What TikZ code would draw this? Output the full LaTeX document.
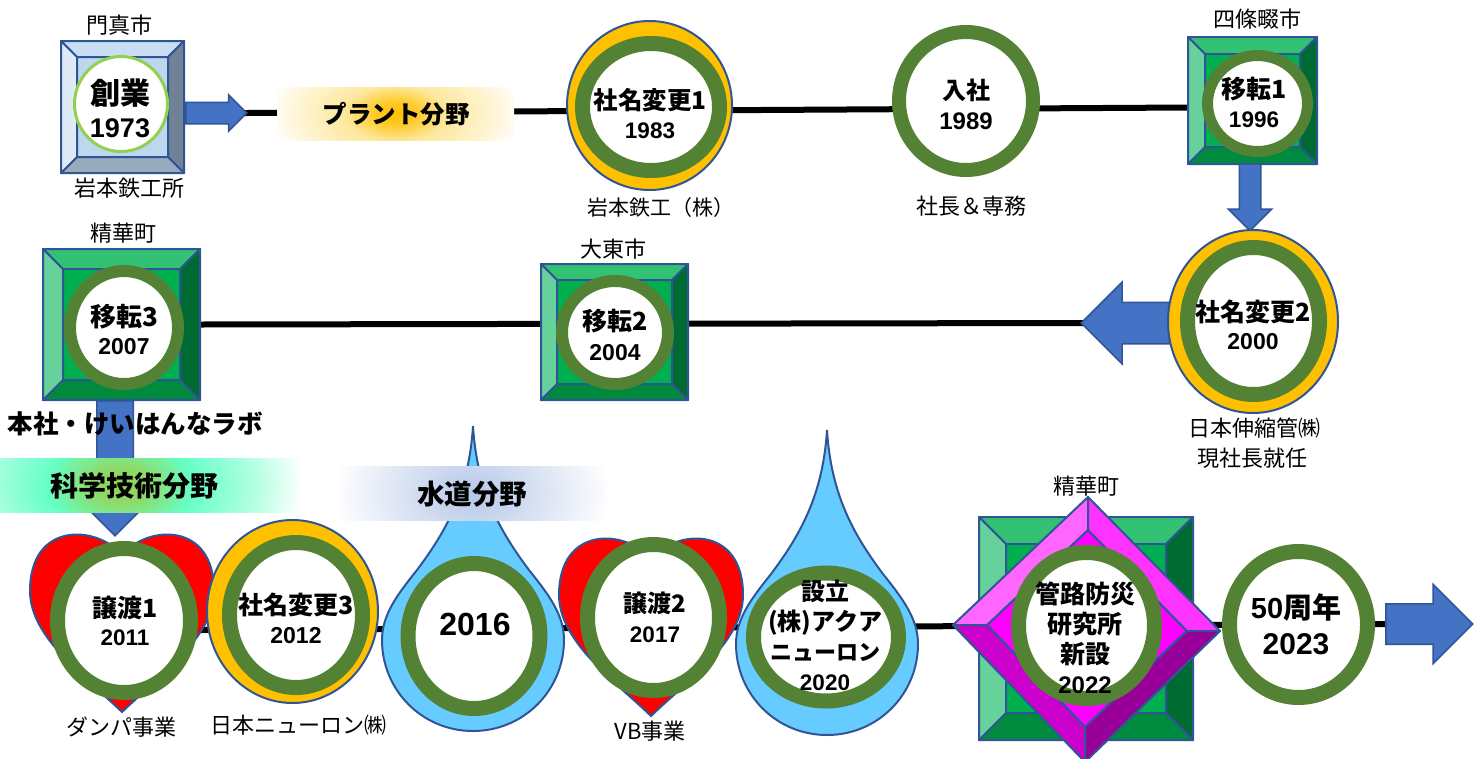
\documentclass[tikz,border=0pt]{standalone}
\usepackage{fontspec}
\setmainfont{Noto Sans CJK JP}
\newfontfamily\numfont{Liberation Sans}
\usetikzlibrary{calc,shapes.geometric,shapes.arrows,backgrounds}

\definecolor{edgeblue}{HTML}{2F5597}
\definecolor{arrowblue}{HTML}{4472C4}
\definecolor{ringgreen}{HTML}{548235}
\definecolor{paleyellow}{HTML}{FFC000}
\definecolor{dropblue}{HTML}{66CCFF}

\definecolor{gemtop}{HTML}{33C173}
\definecolor{gemleft}{HTML}{66D19A}
\definecolor{gemright}{HTML}{006A33}
\definecolor{gemlow}{HTML}{008A3E}
\definecolor{gemmid}{HTML}{00B050}
\definecolor{paletop}{HTML}{CADEF3}
\definecolor{paleleft}{HTML}{DEEAF6}
\definecolor{paleright}{HTML}{6F8296}
\definecolor{palelow}{HTML}{97ABBD}
\definecolor{palemid}{HTML}{BDD7EE}
\definecolor{kanmid}{HTML}{FF00FF}
\definecolor{kantl}{HTML}{FF66FF}
\definecolor{kantr}{HTML}{FF33FF}
\definecolor{kanbr}{HTML}{990099}
\definecolor{kanbl}{HTML}{CC00CC}
\definecolor{soganring}{HTML}{92D050}

\pgfdeclareradialshading{plantglow}{\pgfpoint{0bp}{0bp}}{%
  rgb(0bp)=(1,.75,0);
  rgb(4bp)=(1,.79,.15);
  rgb(10bp)=(.99,.91,.62);
  rgb(21bp)=(1,.97,.88);
  rgb(25bp)=(1,1,1)}
\pgfdeclareradialshading{sciglow}{\pgfpoint{0bp}{0bp}}{%
  rgb(0bp)=(.57,.82,.31);
  rgb(4bp)=(.55,.86,.42);
  rgb(10bp)=(.4,1,.78);
  rgb(18bp)=(.69,1,.88);
  rgb(25bp)=(1,1,1)}
\pgfdeclareradialshading{waterglow}{\pgfpoint{0bp}{0bp}}{%
  rgb(0bp)=(.71,.78,.91);
  rgb(25bp)=(1,1,1)}

\tikzset{
  trunk/.style={line width=6pt, black},
  bevelnode/.style={rectangle, draw=edgeblue, line width=2pt, inner sep=0, outer sep=0},
  bevelface/.style={draw=edgeblue, line width=2pt, line join=round},
  blockarrow/.style 2 args={single arrow, anchor=tail, draw=edgeblue, fill=arrowblue, line width=1.5pt,
    inner sep=#1, single arrow head extend=#2},
  ringnode/.style={ellipse, draw=ringgreen, fill=white, inner sep=0},
  outerring/.style={ellipse, draw=edgeblue, fill=paleyellow, line width=2pt, inner sep=0},
  ringtext/.style 2 args={font=\bfseries\fontsize{#1}{#2}\selectfont, align=center, inner sep=0},
  place/.style={font=\fontsize{22}{30}\selectfont, align=center, inner sep=0},
  bandtext/.style={font=\bfseries\fontsize{#1}{30}\selectfont, inner sep=0},
  blobshape/.style={draw=edgeblue, line width=2pt}
}

\newcommand{\yr}[2]{{\numfont\fontsize{#1}{30}\selectfont #2}}
\newcommand{\bevelbox}[6]{%
  \node[bevelnode, minimum width=#3pt, minimum height=#4pt, fill=#6mid] (#1) at (#2) {};
  \coordinate (#1nw) at ($(#1.north west)+(#5,#5)$);
  \coordinate (#1ne) at ($(#1.north east)+(-#5,#5)$);
  \coordinate (#1se) at ($(#1.south east)+(-#5,-#5)$);
  \coordinate (#1sw) at ($(#1.south west)+(#5,-#5)$);
  \draw[bevelface, fill=#6top] (#1.north west) -- (#1.north east) -- (#1ne) -- (#1nw) -- cycle;
  \draw[bevelface, fill=#6right] (#1.north east) -- (#1.south east) -- (#1se) -- (#1ne) -- cycle;
  \draw[bevelface, fill=#6low] (#1.south east) -- (#1.south west) -- (#1sw) -- (#1se) -- cycle;
  \draw[bevelface, fill=#6left] (#1.south west) -- (#1.north west) -- (#1nw) -- (#1sw) -- cycle;
}
\newcommand{\heartblob}[2]{%
  \draw[blobshape, fill=red, shift={(#1,#2)}]
    (0,22) .. controls (25,-8) and (92,-12) .. (92,58)
    .. controls (92,105) and (35,145) .. (0,179)
    .. controls (-35,145) and (-92,105) .. (-92,58)
    .. controls (-92,-12) and (-25,-8) .. (0,22) -- cycle;
}
\newcommand{\dropblob}[2]{%
  \draw[blobshape, fill=dropblue, shift={(#1,#2)}]
    (0,0) .. controls (4,64) and (26,104) .. (56,144)
    .. controls (76,169) and (91,189) .. (91,214)
    .. controls (91,264) and (51,305) .. (0,305)
    .. controls (-51,305) and (-91,264) .. (-91,214)
    .. controls (-91,189) and (-76,169) .. (-56,144)
    .. controls (-26,104) and (-4,64) .. (0,0) -- cycle;
}

\begin{document}
\begin{tikzpicture}[x=1pt,y=-1pt]
  \useasboundingbox (0,0) rectangle (1482,758);

  % boxes
  \bevelbox{boxsogyo}{122.5,107}{123}{132}{16}{pale}
  \bevelbox{boxiten1}{1252.5,100.5}{129}{127}{17}{gem}
  \bevelbox{boxiten2}{614.5,332}{147}{136}{16}{gem}
  \bevelbox{boxiten3}{121.5,324.5}{157}{151}{20}{gem}
  \bevelbox{boxkanro}{1086,628.5}{214}{223}{27}{gem}

  % arrows
  \node[blockarrow={10pt}{7.5pt}, minimum height=61pt] (arrowstart) at (185,113) {};
  \node[blockarrow={10pt}{11pt}, minimum height=67pt, shape border rotate=270] (arrowdown1) at (1250,163) {};
  \node[blockarrow={20pt}{20pt}, minimum height=88pt, shape border rotate=180] (arrowleft) at (1170,323) {};
  \node[blockarrow={17.5pt}{17.5pt}, minimum height=135pt, shape border rotate=270] (arrowdown2) at (115,400) {};
  \node[blockarrow={19.5pt}{19.5pt}, minimum height=87pt] (arrowend) at (1385,624) {};

  % blobs
  \heartblob{122}{533}
  \heartblob{651}{537}
  \dropblob{473}{426}
  \dropblob{827}{430}

  % diamond
  \coordinate (kT) at (1088,497);
  \coordinate (kR) at (1220,631);
  \coordinate (kB) at (1085,762);
  \coordinate (kL) at (953,625);
  \coordinate (iT) at (1088,530);
  \coordinate (iR) at (1187,631);
  \coordinate (iB) at (1085,727);
  \coordinate (iL) at (987,625);
  \draw[bevelface, fill=kanmid] (iT) -- (iR) -- (iB) -- (iL) -- cycle;
  \draw[bevelface, fill=kantl] (kL) -- (kT) -- (iT) -- (iL) -- cycle;
  \draw[bevelface, fill=kantr] (kT) -- (kR) -- (iR) -- (iT) -- cycle;
  \draw[bevelface, fill=kanbr] (kR) -- (kB) -- (iB) -- (iR) -- cycle;
  \draw[bevelface, fill=kanbl] (kB) -- (kL) -- (iL) -- (iB) -- cycle;

  % yellow discs
  \node[outerring, minimum width=165pt, minimum height=169pt] (disc1) at (649.5,105.5) {};
  \node[outerring, minimum width=170pt, minimum height=183pt] (disc2) at (1253,321.5) {};
  \node[outerring, minimum width=171pt, minimum height=183pt] (disc3) at (292.5,611.5) {};

  % rings
  \node[ringnode, line width=3pt, draw=soganring, minimum width=93pt, minimum height=95pt] (sogyo) at (121,104) {};
  \node[ringnode, line width=15pt, minimum width=137pt, minimum height=127pt] (henko1) at (651,107) {};
  \node[ringnode, line width=14pt, minimum width=134pt, minimum height=138pt] (nyusha) at (966,101) {};
  \node[ringnode, line width=11pt, minimum width=100pt, minimum height=96pt] (iten1) at (1257.5,103.5) {};
  \node[ringnode, line width=15pt, minimum width=132pt, minimum height=147pt] (henko2) at (1253.5,321) {};
  \node[ringnode, line width=12pt, minimum width=106pt, minimum height=103pt] (iten2) at (615,332.5) {};
  \node[ringnode, line width=12pt, minimum width=108pt, minimum height=113pt] (iten3) at (124,327.5) {};
  \node[ringnode, line width=15pt, minimum width=133pt, minimum height=144pt] (joto1) at (124,620.5) {};
  \node[ringnode, line width=15pt, minimum width=133pt, minimum height=145pt] (henko3) at (296,615) {};
  \node[ringnode, line width=15pt, minimum width=132pt, minimum height=145pt] (suido) at (474,636) {};
  \node[ringnode, line width=15pt, minimum width=132pt, minimum height=146pt] (joto2) at (653.5,617.5) {};
  \node[ringnode, line width=15pt, minimum width=145pt, minimum height=128pt] (setsuritsu) at (826,637) {};
  \node[ringnode, line width=15pt, minimum width=136pt, minimum height=146pt] (kanro) at (1086.5,625.5) {};
  \node[ringnode, line width=15pt, minimum width=138pt, minimum height=146pt] (nen50) at (1298.5,624.5) {};

  % bands
  \begin{scope}
    \clip (277,87) rectangle (514,140);
    \shade[shading=plantglow] (395.5,113.5) ellipse [x radius=128, y radius=70];
  \end{scope}
  \begin{scope}
    \clip (0,458) rectangle (300,512);
    \shade[shading=sciglow] (120,485) ellipse [x radius=185, y radius=120];
  \end{scope}
  \begin{scope}
    \clip (340,466) rectangle (605,520);
    \shade[shading=waterglow] (472,493) ellipse [x radius=140, y radius=100];
  \end{scope}
  \node[bandtext=24.5] (plant) at (396,114) {プラント分野};
  \node[bandtext=28] (kagaku) at (134,486) {科学技術分野};
  \node[bandtext=27.5] (water) at (472,494) {水道分野};
  \node[bandtext=25.5] (honsha) at (135,424) {本社・けいはんなラボ};

  % ring texts
  \node[ringtext={30}{33}] (tsogyo) at (120,108) {創業\\\yr{27}{1973}};
  \node[ringtext={24.5}{29}] (thenko1) at (650,113.5) {社名変更1\\\yr{22.5}{1983}};
  \node[ringtext={24}{30}] (tnyusha) at (966,104.5) {入社\\\yr{24}{1989}};
  \node[ringtext={25}{29}] (titen1) at (1254,102) {移転1\\\yr{22.5}{1996}};
  \node[ringtext={25}{28}] (thenko2) at (1253,325) {社名変更2\\\yr{23}{2000}};
  \node[ringtext={25}{30}] (titen2) at (615,335) {移転2\\\yr{23}{2004}};
  \node[ringtext={26}{28}] (titen3) at (124,330) {移転3\\\yr{23}{2007}};
  \node[ringtext={25}{28}] (tjoto1) at (125,621) {譲渡1\\\yr{22.5}{2011}};
  \node[ringtext={25}{29}] (thenko3) at (296,618.5) {社名変更3\\\yr{23}{2012}};
  \node[ringtext={32}{36}] (tsuido) at (475,624) {\yr{32}{2016}};
  \node[ringtext={24}{30}] (tjoto2) at (655,617) {譲渡2\\\yr{22.5}{2017}};
  \node[ringtext={24}{30}] (tsetsu) at (825,635.5) {設立\\(株)アクア\\{\fontsize{22}{30}\selectfont ニューロン}\\\yr{22.5}{2020}};
  \node[ringtext={25}{30}] (tkanro) at (1085,637.5) {管路防災\\研究所\\新設\\\yr{24}{2022}};
  \node[ringtext={29}{36}] (tnen50) at (1296,624) {\yr{29}{50}周年\\\yr{30}{2023}};

  % place labels
  \node[place] (lkadoma) at (119,25) {門真市};
  \node[place] (liwamoto) at (129,188) {岩本鉄工所};
  \node[place, font=\fontsize{21}{30}\selectfont] (liwakabu) at (661,208) {岩本鉄工（株）};
  \node[place] (lshacho) at (971,206) {社長＆専務};
  \node[place] (lshijo) at (1257,19) {四條畷市};
  \node[place] (lseika1) at (123,233) {精華町};
  \node[place] (ldaito) at (613,249) {大東市};
  \node[place] (lshinshuku) at (1254,428) {日本伸縮管㈱};
  \node[place] (lgensha) at (1252,458) {現社長就任};
  \node[place] (ldampa) at (121,727) {ダンパ事業};
  \node[place] (lneuron) at (298,725) {日本ニューロン㈱};
  \node[place] (lvb) at (650,731) {VB事業};
  \node[place] (lseika2) at (1086,486) {精華町};

  % trunk lines
  \coordinate (trunkin) at (200,630);
  \begin{scope}[on background layer]
    \draw[trunk, shorten <=-8pt] (arrowstart.tip) -- ($(boxiten1.west)+(0,7)$);
    \draw[trunk, shorten >=-8pt] (boxiten3.east) -- (arrowleft.tip);
    \draw[trunk] (trunkin) -- (arrowend.tail);
  \end{scope}
\end{tikzpicture}
\end{document}
